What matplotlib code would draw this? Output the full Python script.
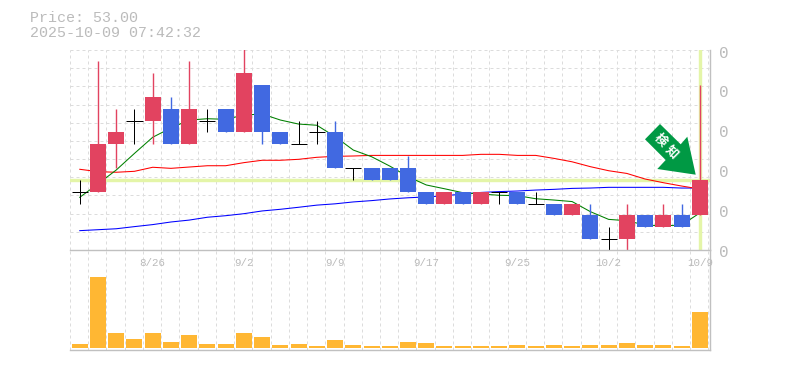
"""Stock candlestick chart with moving averages and volume panel."""

import matplotlib
matplotlib.use("Agg")
import matplotlib.pyplot as plt
from matplotlib.patches import Polygon

WIDTH, HEIGHT = 785, 370
DPI = 100

opens = [52, 52, 56, 58, 58, 59, 56, 58, 59, 57, 61, 57, 56, 57, 57, 54, 54, 54,
         54, 52, 51, 52, 51, 52, 52, 51, 51, 50, 50, 48, 48, 50, 49, 50, 50]
closes = [52, 56, 57, 58, 60, 56, 59, 58, 57, 62, 57, 56, 56, 57, 54, 54, 53, 53,
          52, 51, 52, 51, 52, 52, 51, 51, 50, 51, 48, 48, 50, 49, 50, 49, 53]
highs = [53, 63, 59, 59, 62, 60, 63, 59, 59, 64, 61, 57, 58, 58, 58, 54, 54, 54,
         55, 52, 52, 52, 52, 52, 52, 52, 51, 51, 51, 49, 51, 50, 51, 51, 61]
lows = [51, 52, 54, 56, 56, 56, 56, 57, 57, 57, 56, 56, 56, 56, 54, 53, 53, 53,
        52, 51, 51, 51, 51, 51, 51, 51, 50, 50, 48, 47, 47, 49, 49, 49, 50]
volumes = [4, 71, 15, 9, 15, 6, 13, 4, 4, 15, 11, 3, 4, 2, 8, 3, 2, 2,
           6, 5, 2, 2, 2, 2, 3, 2, 3, 2, 3, 3, 5, 3, 3, 2, 36]

ma_short = [51.53, 52.66, 53.83, 55.23, 56.59, 57.37, 58.04, 58.15, 58.10, 58.46,
            58.55, 58.04, 57.70, 57.60, 56.64, 55.51, 54.95, 54.16, 53.27, 52.57,
            52.25, 51.92, 51.81, 51.70, 51.67, 51.41, 51.30, 51.17, 50.32, 49.67,
            49.56, 49.19, 49.13, 49.19, 50.21]
ma_mid = [53.89, 53.69, 53.64, 53.72, 54.06, 53.97, 54.08, 54.19, 54.19, 54.45,
          54.65, 54.65, 54.73, 54.90, 54.98, 55.01, 55.06, 55.06, 55.06, 55.06,
          55.06, 55.06, 55.15, 55.15, 55.06, 55.06, 54.81, 54.52, 54.11, 53.77,
          53.54, 53.07, 52.76, 52.48, 52.23]
ma_long = [48.72, 48.80, 48.88, 49.06, 49.23, 49.45, 49.61, 49.85, 49.98, 50.15,
           50.38, 50.52, 50.69, 50.87, 50.98, 51.14, 51.25, 51.39, 51.49, 51.56,
           51.66, 51.80, 51.94, 52.01, 52.06, 52.14, 52.20, 52.28, 52.31, 52.37,
           52.37, 52.37, 52.37, 52.31, 52.31]

date_positions = [4, 9, 14, 19, 24, 29, 34]
date_labels = ["8/26", "9/2", "9/9", "9/17", "9/25", "10/2", "10/9"]
axis_label_prices = [63.68, 60.40, 57.03, 53.62, 50.25, 46.88]

PRICE = 53.00
TITLE_LINES = ["Price: 53.00", "2025-10-09 07:42:32"]

RED = "#e24360"
BLUE = "#4169e1"
ORANGE = "#ffb733"
HILITE = "#e4f5a8"
GRID = "#dcdcdc"
FRAME = "#c0c0c0"
TEXT = "#bbbbbb"
PX = 72 / DPI  # one pixel in points


def panel(fig, left, top, right, bottom):
    ax = fig.add_axes([left / WIDTH, 1 - bottom / HEIGHT,
                       (right - left) / WIDTH, (bottom - top) / HEIGHT])
    ax.set_facecolor("none")
    for side in ax.spines.values():
        side.set_visible(False)
    ax.tick_params(left=False, bottom=False, labelleft=False, labelbottom=False)
    return ax


def main():
    fig = plt.figure(figsize=(WIDTH / DPI, HEIGHT / DPI), dpi=DPI)
    n = len(opens)
    xs = list(range(n))
    xlim = (-0.536, 34.56)
    vlines = [xlim[0] + k for k in range(36)]

    ax = panel(fig, 70, 50, 710, 250)
    vol = panel(fig, 70, 250, 710, 350)

    # price panel
    ax.set_xlim(*xlim)
    ax.set_ylim(47.09, 63.94)
    lo, hi = ax.get_ylim()
    for v in vlines:
        ax.axvline(v, color=GRID, lw=PX, ls=(0, (3, 3)), zorder=1)
    for k in range(12):
        ax.axhline(lo + k * (hi - lo) / 11, color=GRID, lw=PX, ls=(0, (3, 3)), zorder=1)

    ax.axhline(PRICE, color=HILITE, lw=3.4 * PX, zorder=2)
    ax.axvline(n - 1, ymin=0.005, color=HILITE, lw=3.4 * PX, zorder=2)

    for series, color in ((ma_long, "#0000ff"), (ma_mid, "#ff0000"), (ma_short, "#008000")):
        ax.plot(xs, series, color=color, lw=PX * 1.05, zorder=3)

    for i in xs:
        o, c, h, l = opens[i], closes[i], highs[i], lows[i]
        if c > o:
            color = RED
        elif c < o:
            color = BLUE
        else:
            color = "black"
        ax.plot([i, i], [l, h], color=color, lw=PX * 1.4 if c != o else PX, zorder=4,
                solid_capstyle="butt")
        if c == o:
            ax.plot([i - 0.44, i + 0.44], [o, o], color="black", lw=PX, zorder=4,
                    solid_capstyle="butt")
        else:
            ax.bar(i, abs(c - o), bottom=min(o, c), width=0.877, color=color,
                   linewidth=0, zorder=5)

    for p in axis_label_prices:
        ax.text(1.022, p, "0", transform=ax.get_yaxis_transform(), clip_on=False,
                ha="center", va="center", color=TEXT, fontsize=11.5,
                family="Liberation Mono")

    # volume panel
    vol.set_xlim(*xlim)
    vol.set_ylim(-2, 98)
    for v in vlines:
        vol.axvline(v, color=GRID, lw=PX, ls=(0, (3, 3)), zorder=1)
    vol.bar(xs, volumes, width=0.877, color=ORANGE, linewidth=0, zorder=3)
    for name in ("top", "bottom", "right"):
        vol.spines[name].set_visible(True)
        vol.spines[name].set_color(FRAME)
        vol.spines[name].set_linewidth(PX * 1.4)
    ax.spines["right"].set_visible(True)
    ax.spines["right"].set_color(FRAME)
    ax.spines["right"].set_linewidth(PX * 1.4)

    for pos, label in zip(date_positions, date_labels):
        vol.text(pos, 85, label, ha="center", va="center", color=TEXT,
                 fontsize=7.8, family="Liberation Mono", clip_on=False)

    # overlay in pixel units: header text and the arrow
    over = fig.add_axes([0, 0, 1, 1])
    over.set_xlim(0, WIDTH)
    over.set_ylim(HEIGHT, 0)
    over.axis("off")
    over.set_facecolor("none")
    for y, line in zip((18, 33), TITLE_LINES):
        over.text(29.5, y, line, ha="left", va="center", color=TEXT,
                  fontsize=10.8, family="Liberation Mono")

    arrow = [(660, 124), (680.7, 144.3), (687.3, 136.7), (695.7, 174.7),
             (657.3, 169), (665.7, 160), (645, 139.3)]
    over.add_patch(Polygon(arrow, closed=True, facecolor="#009944", edgecolor="none", zorder=6))
    for (x, y), ch in zip(((660.7, 140), (671.7, 151.7)), "検知"):
        over.text(x, y, ch, ha="center", va="center", color="white", rotation=-45,
                  rotation_mode="anchor", fontsize=9, fontweight="bold",
                  family="Noto Sans CJK JP", zorder=7)

    fig.savefig("out.png", dpi=DPI, facecolor="white")


if __name__ == "__main__":
    main()
